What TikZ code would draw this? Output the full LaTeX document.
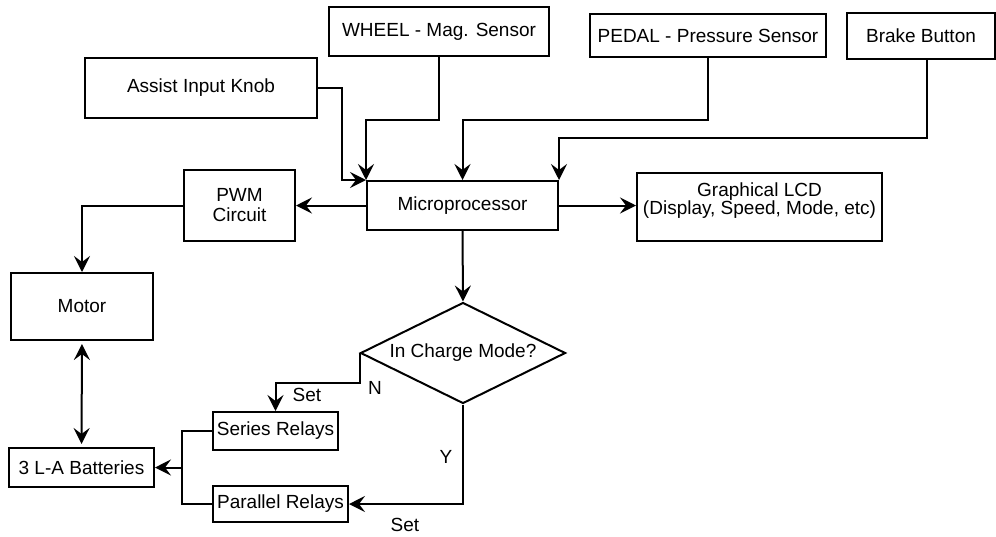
\documentclass[tikz,border=0pt]{standalone}
\usepackage{fontspec}
\setmainfont{Liberation Sans}
\usetikzlibrary{arrows.meta,shapes.geometric,calc}
\begin{document}
\begin{tikzpicture}[x=1pt,y=-1pt,
  line width=2pt,
  every node/.style={font=\fontsize{19pt}{19pt}\selectfont},
  blk/.style={draw,rectangle,inner sep=0pt,line width=2pt},
  arr/.style={-{Stealth[length=16pt,width=16pt,inset=6pt]}},
  darr/.style={{Stealth[length=16pt,width=16pt,inset=6pt]}-{Stealth[length=16pt,width=16pt,inset=6pt]}},
  lbl/.style={inner sep=0pt}
]
\useasboundingbox (0,0) rectangle (996,536);
% boxes
\node[blk,minimum width=220pt,minimum height=49pt] (wheel) at (439,31.5) {WHEEL - Mag. Sensor};
\node[blk,minimum width=236pt,minimum height=43pt] (pedal) at (708,35.5) {PEDAL - Pressure Sensor};
\node[blk,minimum width=148pt,minimum height=46pt] (brake) at (921,36) {Brake Button};
\node[blk,minimum width=232pt,minimum height=60pt] (assist) at (201,88) {Assist Input Knob\hspace{30pt}};
\node[blk,minimum width=111pt,minimum height=71pt,align=center,font=\fontsize{19pt}{20pt}\selectfont] (pwm) at (239.5,205.5) {PWM\\Circuit};
\node[blk,minimum width=191pt,minimum height=49pt] (micro) at (462.5,205.5) {Microprocessor};
\node[blk,minimum width=245pt,minimum height=68pt,align=center,font=\fontsize{19pt}{17pt}\selectfont] (lcd) at (759.5,207) {Graphical LCD\\(Display, Speed, Mode, etc)\\\mbox{}};
\node[draw,diamond,aspect=2,inner sep=0pt,minimum width=205pt,minimum height=101pt] (dia) at (463,353) {In Charge Mode?};
\node[blk,minimum width=142pt,minimum height=67pt] (motor) at (82,306.5) {Motor};
\node[blk,minimum width=145pt,minimum height=39pt] (batt) at (81.5,467.5) {3 L-A Batteries};
\node[blk,minimum width=125pt,minimum height=38pt] (series) at (275.5,431) {Series Relays};
\node[blk,minimum width=135pt,minimum height=36pt] (parallel) at (280.5,504) {Parallel Relays};
% connectors
\draw[arr] (wheel.south) -- ++(0,63) -| (micro.north west);
\draw[arr] (assist.east) -- ++(24,0) |- (micro.north west);
\draw[arr] (pedal.south) -- ++(0,62) -| (micro.north);
\draw[arr] ([xshift=6pt]brake.south) -- ++(0,78) -| (micro.north east);
\draw[arr] (micro.west) -- (pwm.east);
\draw[arr] (pwm.west) -| (motor.north);
\draw[arr] (micro.east) -- (micro.east -| lcd.west);
\draw[arr] (micro.south) -- (dia.north);
\draw[arr] (dia.west) -- ++(0,30) -| (series.north);
\draw[arr] (dia.south) |- (parallel.east);
\coordinate (jx) at ([xshift=-30pt]series.west);
\draw (series.west) -- (jx) |- (parallel.west);
\draw[arr] (batt.east -| jx) -- (batt.east);
\draw[darr,shorten <=3pt,shorten >=3pt] (motor.south) -- (batt.north);
% labels
\node[lbl] (setn) at (307,395) {Set};
\node[lbl] (nl) at (375,388) {N};
\node[lbl] (yl) at (446,457) {Y};
\node[lbl] (sety) at (405,525) {Set};
\end{tikzpicture}
\end{document}
